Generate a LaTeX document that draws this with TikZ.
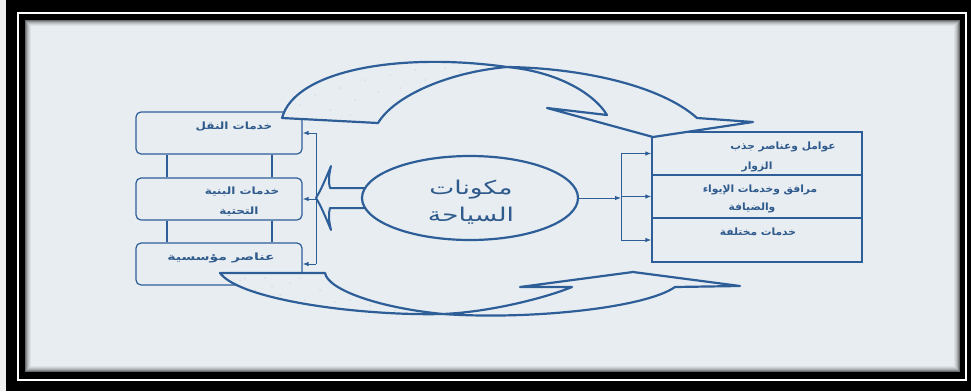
\documentclass[tikz,border=0pt]{standalone}
\usepackage{fontspec}
\usetikzlibrary{shapes.geometric,arrows.meta,calc}
\TeXXeTstate=1
\newfontfamily\arabicfont[Script=Arabic, FakeStretch=1.07]{DejaVu Sans}
\newfontfamily\arabicmid[Script=Arabic, FakeStretch=1.2]{DejaVu Sans}
\newfontfamily\arabicwide[Script=Arabic, FakeStretch=1.4]{DejaVu Sans}
\newfontfamily\arabicbig[Script=Arabic, FakeStretch=1.4]{DejaVu Sans}
\definecolor{ink}{HTML}{2D5E98}
\definecolor{txt}{HTML}{2F5A8C}
\definecolor{paper}{HTML}{E8EDF1}
\begin{document}
\begin{tikzpicture}[x=1pt,y=-1pt,
  box/.style={draw=ink, line width=1.2pt, rounded corners=5pt, minimum width=166pt, minimum height=42pt, inner sep=0pt},
  part/.style={draw=ink, line width=1.2pt, minimum width=210pt, minimum height=43pt, inner sep=0pt},
  lbl/.style={text=txt, font=\arabicfont\bfseries\fontsize{10}{12}\selectfont, inner sep=0pt},
  lblm/.style={text=txt, font=\arabicmid\bfseries\fontsize{10}{12}\selectfont, inner sep=0pt},
  lblw/.style={text=txt, font=\arabicwide\bfseries\fontsize{10}{12}\selectfont, inner sep=0pt},
  big/.style={text=txt, font=\arabicbig\fontsize{19}{22}\selectfont, inner sep=0pt},
  tip/.style={-{Latex[length=6pt,width=4.5pt]}, draw=ink, line width=1pt},
  link/.style={draw=ink, line width=1.2pt},
  band/.style={draw=ink, line width=2.2pt, fill=paper, line join=round},
  speck/.style={fill=gray!70},
]
% frame
\useasboundingbox (0,0) rectangle (971,391);
\fill[black] (0,0) rectangle (971,391);
\fill[gray!12] (0,0) rectangle (6,391);
\draw[white, line width=2pt] (18,13) rectangle (966,380);
\fill[paper] (25,20) rectangle (960,372);
\foreach \i/\o in {0.5/0.55,1.5/0.4,2.5/0.28,3.5/0.18,4.5/0.1,5.5/0.05}
  \draw[black, opacity=\o, line width=1pt] ({25+\i},{20+\i}) rectangle ({960-\i},{372-\i});

% left column of boxes
\node[box] (b1) at (219,133) {};
\node[box] (b2) at (219,199) {};
\node[box] (b3) at (219,264) {};
\coordinate (cl) at (167,0);
\coordinate (cr) at (272,0);
\draw[link] (b1.south -| cl) -- (b2.north -| cl);
\draw[link] (b1.south -| cr) -- (b2.north -| cr);
\draw[link] (b2.south -| cl) -- (b3.north -| cl);
\draw[link] (b2.south -| cr) -- (b3.north -| cr);

% left bus
\coordinate (busL) at (316,0);
\draw[link, line width=1pt] (b1.east -| busL) -- (b3.east -| busL);
\draw[tip] (b1.east -| busL) -- (b1.east);
\draw[tip] (b2.east -| busL) -- (b2.east);
\draw[tip] (b3.east -| busL) -- (b3.east);

% right stacked box
\node[part] (r1) at (757,153.5) {};
\node[part] (r2) at (757,196.5) {};
\node[part, minimum height=44pt] (r3) at (757,240) {};

% ellipse and right bus
\node[ellipse, minimum width=216pt, minimum height=84pt, inner sep=0pt] (core) at (470,198) {};
\coordinate (busR) at (621,0);
\draw[tip] (core.east) -- (core.east -| busR);
\draw[link, line width=1pt] (r1.west -| busR) -- (r3.west -| busR);
\draw[tip] (r1.west -| busR) -- (r1.west);
\draw[tip] (r2.west -| busR) -- (r2.west);
\draw[tip] (r3.west -| busR) -- (r3.west);

% hollow arrow from the ellipse to the left bus
\path[band, line width=2pt] (368,188) -- (330,188) .. controls (328,182) and (329,175) .. (331,166)
  .. controls (326,178) and (321,190) .. (316,198)
  .. controls (321,206) and (326,218) .. (331,230)
  .. controls (329,221) and (328,214) .. (330,208) -- (368,208);
\node[ellipse, draw=ink, line width=2.2pt, fill=paper, minimum width=216pt, minimum height=84pt, inner sep=0pt] at (core) {};

% upper twisted ribbon arrow
\path[band] (282,118) .. controls (295,70) and (400,52) .. (507,67)
  .. controls (450,72) and (395,95) .. (378,123) -- cycle;
\foreach \p in {(300,105),(315,95),(330,110),(340,88),(355,100),(365,80),(378,92),(390,75),(400,88),(415,70),(425,80),(445,68),(460,72),(475,70),(350,115),(320,80)}
  \fill[speck] \p circle (0.5);
\path[band] (507,67) .. controls (580,68) and (660,85) .. (697,118) -- (753,122) -- (653,137)
  -- (547,108) -- (607,115) .. controls (595,95) and (560,72) .. (507,67) -- cycle;

% lower twisted ribbon arrow
\path[band] (220,273) -- (325,273) .. controls (328,290) and (380,308) .. (443,314)
  .. controls (360,316) and (240,300) .. (220,273) -- cycle;
\foreach \p in {(240,280),(255,290),(265,278),(280,295),(290,283),(305,300),(300,278),(320,290),(335,302),(350,300),(370,305),(395,310),(245,278),(272,286)}
  \fill[speck] \p circle (0.5);
\path[band] (443,314) .. controls (490,312) and (545,298) .. (572,287) -- (520,287) -- (633,272)
  -- (740,286) -- (675,287) .. controls (645,308) and (530,320) .. (443,314) -- cycle;

% labels
\node[lblm] (t1) at (234,127) {\beginR خدمات النقل\endR};
\node[lblm] (t2) at (242,192) {\beginR خدمات البنية\endR};
\node[lblm] (t2b) at (239,212) {\beginR التحتية\endR};
\node[lblw] (t3) at (221,258) {\beginR عناصر مؤسسية\endR};
\node[lbl] (s1) at (783,147) {\beginR عوامل وعناصر جذب\endR};
\node[lbl] (s1b) at (757,167) {\beginR الزوار\endR};
\node[lbl] (s2) at (760,190) {\beginR مرافق وخدمات الإيواء\endR};
\node[lbl] (s2b) at (752,208) {\beginR والضيافة\endR};
\node[lbl] (s3) at (758,232) {\beginR خدمات مختلفة\endR};
\node[big] (c1) at (471,190) {\beginR مكونات\endR};
\node[big] (c2) at (471,216) {\beginR السياحة\endR};
\end{tikzpicture}
\end{document}
